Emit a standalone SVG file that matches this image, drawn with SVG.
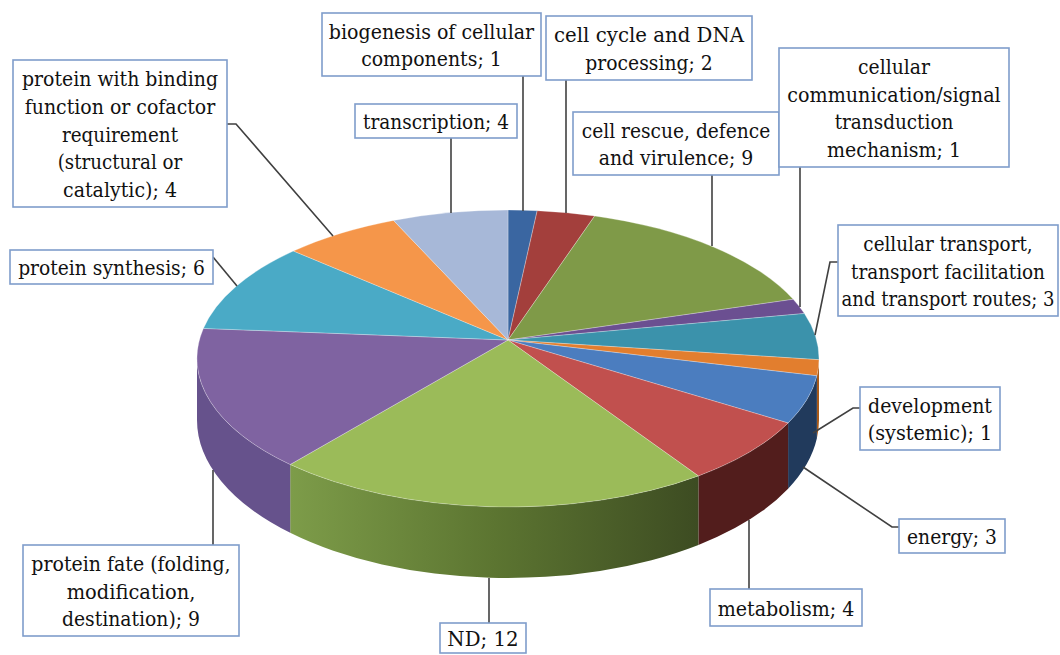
<svg xmlns="http://www.w3.org/2000/svg" width="1060" height="655" viewBox="0 0 1060 655">
  <style>
    .box { fill: #ffffff; stroke: #7f9dcb; stroke-width: 1.6; }
    .lbl { font-family: "DejaVu Serif", serif; font-size: 21px; fill: #111111; text-anchor: middle; }
    .lead { fill: none; stroke: #404040; stroke-width: 1.6; }
    .top { stroke: #ffffff; stroke-opacity: 0.35; stroke-width: 0.8; }
  </style>
  <defs>
    <linearGradient id="ndSide" gradientUnits="userSpaceOnUse" x1="290" y1="0" x2="698" y2="0">
      <stop offset="0" stop-color="#7d9c49"/>
      <stop offset="0.5" stop-color="#5c7531"/>
      <stop offset="1" stop-color="#3d4c22"/>
    </linearGradient>
  </defs>
  <rect width="1060" height="655" fill="#ffffff"/>

  <!-- pie wall (front half) -->
  <g id="pie-sides">
    <path d="M819,358.5 A311,148.5 0 0 1 816.9,375.8 L816.9,438.3 A311,158 0 0 0 819,420 Z" fill="#a85a1a"/>
    <path d="M816.9,375.8 A311,148.5 0 0 1 788.1,423 L788.1,488.7 A311,158 0 0 0 816.9,438.3 Z" fill="#213a5c"/>
    <path d="M788.1,423 A311,148.5 0 0 1 698.4,475.9 L698.4,544.9 A311,158 0 0 0 788.1,488.7 Z" fill="#521d1c"/>
    <path d="M698.4,475.9 A311,148.5 0 0 1 290.2,464.5 L290.2,532.8 A311,158 0 0 0 698.4,544.9 Z" fill="url(#ndSide)"/>
    <path d="M290.2,464.5 A311,148.5 0 0 1 197,358.5 L197,420 A311,158 0 0 0 290.2,532.8 Z" fill="#66528c"/>
  </g>

  <!-- pie top slices, clockwise from 12 o'clock -->
  <g id="pie-top">
    <path class="top" d="M508,340 L508,210 A311,148.5 0 0 1 537.2,210.7 Z" fill="#3a66a1"/>
    <path class="top" d="M508,340 L537.2,210.7 A311,148.5 0 0 1 594.7,215.9 Z" fill="#a33f3c"/>
    <path class="top" d="M508,340 L594.7,215.9 A311,148.5 0 0 1 793.2,299.3 Z" fill="#7f9a48"/>
    <path class="top" d="M508,340 L793.2,299.3 A311,148.5 0 0 1 804.4,313.5 Z" fill="#6b4f91"/>
    <path class="top" d="M508,340 L804.4,313.5 A311,148.5 0 0 1 819,359.7 Z" fill="#3b92ab"/>
    <path class="top" d="M508,340 L819,359.7 A311,148.5 0 0 1 816.9,375.8 Z" fill="#e27e2e"/>
    <path class="top" d="M508,340 L816.9,375.8 A311,148.5 0 0 1 788.1,423 Z" fill="#4b7dbf"/>
    <path class="top" d="M508,340 L788.1,423 A311,148.5 0 0 1 698.4,475.9 Z" fill="#c1504e"/>
    <path class="top" d="M508,340 L698.4,475.9 A311,148.5 0 0 1 290.2,464.5 Z" fill="#9bbb59"/>
    <path class="top" d="M508,340 L290.2,464.5 A311,148.5 0 0 1 203.4,328.4 Z" fill="#7f63a1"/>
    <path class="top" d="M508,340 L203.4,328.4 A311,148.5 0 0 1 293.4,251 Z" fill="#4aaac6"/>
    <path class="top" d="M508,340 L293.4,251 A311,148.5 0 0 1 393.5,220.4 Z" fill="#f5964a"/>
    <path class="top" d="M508,340 L393.5,220.4 A311,148.5 0 0 1 508,210 Z" fill="#a7b8d8"/>
  </g>

  <!-- leader lines -->
  <g id="connectors">
    <polyline class="lead" points="227,124 236,124 333,236"/>
    <polyline class="lead" points="523,76 523,211"/>
    <polyline class="lead" points="566,80 566,213"/>
    <polyline class="lead" points="451,138 451,213"/>
    <polyline class="lead" points="712,175 712,246"/>
    <polyline class="lead" points="800,167 800,307"/>
    <polyline class="lead" points="838,262 830,262 815,335"/>
    <polyline class="lead" points="860,408 853,408 813,433"/>
    <polyline class="lead" points="899,527 892,527 803,467"/>
    <polyline class="lead" points="749,589 749,520"/>
    <polyline class="lead" points="489,623 489,578"/>
    <polyline class="lead" points="213,545 213,470"/>
    <polyline class="lead" points="213,257 237,286"/>
  </g>

  <!-- category labels -->
  <g id="labels">
  <g id="label-binding">
    <rect class="box" x="13" y="60" width="214" height="147"/>
    <text class="lbl" x="120" y="86.3" textLength="196" lengthAdjust="spacingAndGlyphs">protein with binding</text>
    <text class="lbl" x="120" y="113.9" textLength="190.6" lengthAdjust="spacingAndGlyphs">function or cofactor</text>
    <text class="lbl" x="120" y="141.5" textLength="116" lengthAdjust="spacingAndGlyphs">requirement</text>
    <text class="lbl" x="120" y="169.1" textLength="124.6" lengthAdjust="spacingAndGlyphs">(structural or</text>
    <text class="lbl" x="120" y="196.7" textLength="114" lengthAdjust="spacingAndGlyphs">catalytic); 4</text>
  </g>
  <g id="label-biogenesis">
    <rect class="box" x="322" y="13" width="219" height="63"/>
    <text class="lbl" x="431.5" y="38.7" textLength="205.3" lengthAdjust="spacingAndGlyphs">biogenesis of cellular</text>
    <text class="lbl" x="431.5" y="66.3" textLength="140.7" lengthAdjust="spacingAndGlyphs">components; 1</text>
  </g>
  <g id="label-cellcycle">
    <rect class="box" x="546" y="16" width="206" height="64"/>
    <text class="lbl" x="649" y="42.2" textLength="189.9" lengthAdjust="spacingAndGlyphs">cell cycle and DNA</text>
    <text class="lbl" x="649" y="69.8" textLength="127.3" lengthAdjust="spacingAndGlyphs">processing; 2</text>
  </g>
  <g id="label-transcription">
    <rect class="box" x="355" y="104" width="162" height="34"/>
    <text class="lbl" x="436" y="129" textLength="146" lengthAdjust="spacingAndGlyphs">transcription; 4</text>
  </g>
  <g id="label-rescue">
    <rect class="box" x="573" y="112" width="206" height="63"/>
    <text class="lbl" x="676" y="137.7" textLength="188.6" lengthAdjust="spacingAndGlyphs">cell rescue, defence</text>
    <text class="lbl" x="676" y="165.3" textLength="154.6" lengthAdjust="spacingAndGlyphs">and virulence; 9</text>
  </g>
  <g id="label-communication">
    <rect class="box" x="779" y="48" width="230" height="119"/>
    <text class="lbl" x="894" y="74.1" textLength="72" lengthAdjust="spacingAndGlyphs">cellular</text>
    <text class="lbl" x="894" y="101.7" textLength="213.3" lengthAdjust="spacingAndGlyphs">communication/signal</text>
    <text class="lbl" x="894" y="129.3" textLength="118.7" lengthAdjust="spacingAndGlyphs">transduction</text>
    <text class="lbl" x="894" y="156.9" textLength="134" lengthAdjust="spacingAndGlyphs">mechanism; 1</text>
  </g>
  <g id="label-transport">
    <rect class="box" x="838" y="225" width="220" height="91"/>
    <text class="lbl" x="948" y="250.9" textLength="169.3" lengthAdjust="spacingAndGlyphs">cellular transport,</text>
    <text class="lbl" x="948" y="278.5" textLength="194" lengthAdjust="spacingAndGlyphs">transport facilitation</text>
    <text class="lbl" x="948" y="306.1" textLength="213" lengthAdjust="spacingAndGlyphs">and transport routes; 3</text>
  </g>
  <g id="label-development">
    <rect class="box" x="860" y="387" width="140" height="63"/>
    <text class="lbl" x="930" y="412.7" textLength="124" lengthAdjust="spacingAndGlyphs">development</text>
    <text class="lbl" x="930" y="440.3" textLength="124.7" lengthAdjust="spacingAndGlyphs">(systemic); 1</text>
  </g>
  <g id="label-energy">
    <rect class="box" x="899" y="519" width="106" height="34"/>
    <text class="lbl" x="952" y="544" textLength="90" lengthAdjust="spacingAndGlyphs">energy; 3</text>
  </g>
  <g id="label-metabolism">
    <rect class="box" x="710" y="589" width="152" height="37"/>
    <text class="lbl" x="786" y="615.5" textLength="136.7" lengthAdjust="spacingAndGlyphs">metabolism; 4</text>
  </g>
  <g id="label-nd">
    <rect class="box" x="440" y="623" width="86" height="30"/>
    <text class="lbl" x="483" y="646" textLength="71.3" lengthAdjust="spacingAndGlyphs">ND; 12</text>
  </g>
  <g id="label-fate">
    <rect class="box" x="23" y="545" width="216" height="91"/>
    <text class="lbl" x="131" y="571.1" textLength="199.3" lengthAdjust="spacingAndGlyphs">protein fate (folding,</text>
    <text class="lbl" x="131" y="598.7" textLength="128.7" lengthAdjust="spacingAndGlyphs">modification,</text>
    <text class="lbl" x="131" y="626.3" textLength="138" lengthAdjust="spacingAndGlyphs">destination); 9</text>
  </g>
  <g id="label-synthesis">
    <rect class="box" x="10" y="250" width="203" height="34"/>
    <text class="lbl" x="111.5" y="275" textLength="186.7" lengthAdjust="spacingAndGlyphs">protein synthesis; 6</text>
  </g>
  </g>
</svg>
